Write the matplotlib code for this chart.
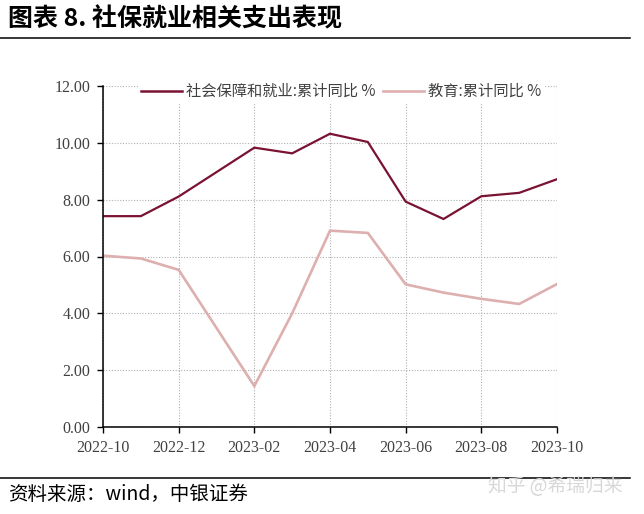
import numpy as np
import matplotlib
matplotlib.use("Agg")
import matplotlib.pyplot as plt
from matplotlib.lines import Line2D

months = ["2022-10", "2022-11", "2022-12", "2023-01", "2023-02", "2023-03", "2023-04",
          "2023-05", "2023-06", "2023-07", "2023-08", "2023-09", "2023-10"]
social = [7.42, 7.42, 8.11, np.nan, 9.83, 9.63, 10.32, 10.03, 7.93, 7.32, 8.12, 8.24, 8.72]
education = [6.03, 5.93, 5.53, np.nan, 1.44, 4.00, 6.91, 6.83, 5.02, 4.73, 4.51, 4.33, 5.03]
series_names = ["社会保障和就业:累计同比 %", "教育:累计同比 %"]
yticks = [0, 2, 4, 6, 8, 10, 12]

CJK = ["Noto Sans CJK SC", "DejaVu Sans"]
SERIF = ["Liberation Serif", "Noto Sans CJK SC"]

fig = plt.figure(figsize=(6.44, 5.14), dpi=100)
ax = fig.add_axes([103/644, (514-427)/514, (557-103)/644, (427-86)/514])

x = np.arange(len(months))
c1, c2 = "#7A1232", "#DDAFAF"
for vals, col, lw in [(social, c1, 1.6), (education, c2, 1.9)]:
    v = np.array(vals, dtype=float)
    m = ~np.isnan(v)
    ax.plot(x[m], v[m], color=col, lw=lw, solid_joinstyle="miter")

ax.set_xlim(0, len(months) - 1)
ax.set_ylim(0, 12)
ax.set_yticks(yticks)
ax.set_yticklabels([f"{t:.2f}" for t in yticks], family=SERIF, fontsize=11.5, color="#404040")
ax.set_xticks(x[::2])
ax.set_xticklabels(months[::2], family=SERIF, fontsize=11.5, color="#404040")
ax.grid(True, linestyle=(0, (1, 1.5)), color="#B0B0B0", lw=0.8)
ax.set_axisbelow(True)
for s in ["top", "right"]:
    ax.spines[s].set_visible(False)
for s in ["left", "bottom"]:
    ax.spines[s].set_linewidth(1.1)
    ax.spines[s].set_color("black")
ax.tick_params(direction="out", length=4, width=1, color="black", pad=5)

handles = [Line2D([], [], color=c1, lw=1.8), Line2D([], [], color=c2, lw=1.9)]
leg = ax.legend(handles, series_names, ncol=2, loc="upper left",
                bbox_to_anchor=(0.06, 1.04), frameon=True, framealpha=1,
                edgecolor="none", facecolor="white", fancybox=False,
                prop={"family": CJK, "size": 11}, handlelength=2.7,
                handletextpad=0.25, columnspacing=0.5, borderpad=0.2)
for t in leg.get_texts():
    t.set_color("#404040")

fig.text(8/644, 1 - 19/514, "图表 8. 社保就业相关支出表现", family=CJK, fontsize=18,
         fontweight="bold", va="center", ha="left", color="black")
fig.add_artist(Line2D([0, 630/644], [1 - 38/514, 1 - 38/514], color="black", lw=1.1))
fig.add_artist(Line2D([0, 630/644], [1 - 478/514, 1 - 478/514], color="black", lw=1.1))
fig.text(8/644, 1 - 495/514, "资料来源：wind，中银证券", family=CJK, fontsize=14,
         style="italic", va="center", ha="left", color="black")
fig.text(622/644, 1 - 487/514, "知乎 @希瑞归来", family=CJK, fontsize=13.5,
         va="center", ha="right", color="#D8D8D8")

fig.savefig("out.png", dpi=100)
